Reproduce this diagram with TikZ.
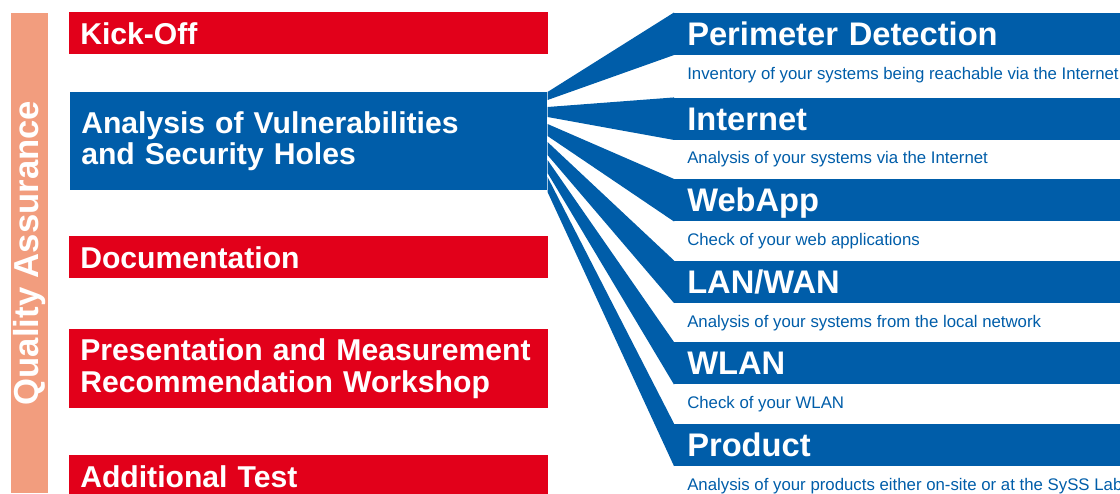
\documentclass[tikz,border=0pt]{standalone}
\usepackage{fontspec}
\setmainfont{Liberation Sans}
\usepackage{xcolor}
\usepackage{tikz}
\usetikzlibrary{positioning,calc}
\definecolor{QaRed}{HTML}{E2001A}
\definecolor{QaBlue}{HTML}{005DA9}
\definecolor{QaSalmon}{HTML}{F29D7E}
\tikzset{
  phasebox/.style={fill=QaRed,text=white,font=\fontsize{22.6}{23.5}\selectfont\bfseries,anchor=north west,inner xsep=8.25pt,inner ysep=0pt,text width=342.75pt,align=left,minimum height=31.5pt},
  testbox/.style={phasebox,fill=QaBlue,text width=341.25pt},
  modulebar/.style={fill=QaBlue,text=white,font=\fontsize{24.5}{26}\selectfont\bfseries,anchor=north west,inner xsep=9.75pt,inner ysep=0pt,text width=322.5pt,align=left,minimum height=31.5pt,text height=17.5pt,text depth=0pt},
  modulenote/.style={text=QaBlue,font=\fontsize{12.6}{14}\selectfont,anchor=base west,inner sep=0pt},
  fanstrand/.style={fill=QaBlue},
  qabar/.style={fill=QaSalmon,text=white,font=\fontsize{26}{27}\selectfont\bfseries,rotate=90,minimum width=360pt,minimum height=27.75pt,inner sep=0pt}
}

\begin{document}
\begin{tikzpicture}[x=0.75pt,y=-0.75pt,node distance=29.25pt]
\useasboundingbox (0,0) rectangle (1120,493);
\clip (0,0) rectangle (1120,493);
% left column: project phases
\node[qabar] (qa) at (29.75,253) {Quality Assurance};
\node[phasebox] (kick) at (69,12) {Kick-Off};
\node[testbox,below=28.1pt of kick,minimum height=73.5pt] (an) {Analysis of Vulnerabilities\\and Security Holes};
\node[phasebox,below=34.1pt of an] (doc) {Documentation};
\node[phasebox,below=37.85pt of doc,minimum height=59.25pt] (pres) {Presentation and Measurement\\Recommendation Workshop};
\node[phasebox,below=34.85pt of pres] (add) {Additional Test};
% right column: test modules
\node[modulebar] (h1) at (674,12.5) {Perimeter Detection};
\node[modulebar,below=31.8pt of h1] (h2) {Internet};
\node[modulebar,below=of h2] (h3) {WebApp};
\node[modulebar,below=of h3] (h4) {LAN/WAN};
\node[modulebar,below=of h4] (h5) {WLAN};
\node[modulebar,below=of h5] (h6) {Product};
\node[modulenote] (n1) at ($(h1.south west)+(13,24)$) {Inventory of your systems being reachable via the Internet};
\node[modulenote] (n2) at ($(h2.south west)+(13,24)$) {Analysis of your systems via the Internet};
\node[modulenote] (n3) at ($(h3.south west)+(13,24)$) {Check of your web applications};
\node[modulenote] (n4) at ($(h4.south west)+(13,24)$) {Analysis of your systems from the local network};
\node[modulenote] (n5) at ($(h5.south west)+(13,24)$) {Check of your WLAN};
\node[modulenote] (n6) at ($(h6.south west)+(13,24)$) {Analysis of your products either on-site or at the SySS Lab};
% fan from the analysis box to the modules
\fill[fanstrand] (an.north east) -- (h1.north west) -- (h1.south west) -- ($(an.north east)+(0,8)$) -- cycle;
\fill[fanstrand] ($(an.north east)+(0,15)$) -- (h2.north west) -- (h2.south west) -- ($(an.north east)+(0,25)$) -- cycle;
\fill[fanstrand] ($(an.north east)+(0,32)$) -- (h3.north west) -- (h3.south west) -- ($(an.north east)+(0,44)$) -- cycle;
\fill[fanstrand] ($(an.north east)+(0,50)$) -- (h4.north west) -- (h4.south west) -- ($(an.north east)+(0,63)$) -- cycle;
\fill[fanstrand] ($(an.north east)+(0,68)$) -- (h5.north west) -- (h5.south west) -- ($(an.north east)+(0,81)$) -- cycle;
\fill[fanstrand] ($(an.north east)+(0,85)$) -- (h6.north west) -- (h6.south west) -- ($(an.north east)+(0,100)$) -- cycle;
\end{tikzpicture}
\end{document}
